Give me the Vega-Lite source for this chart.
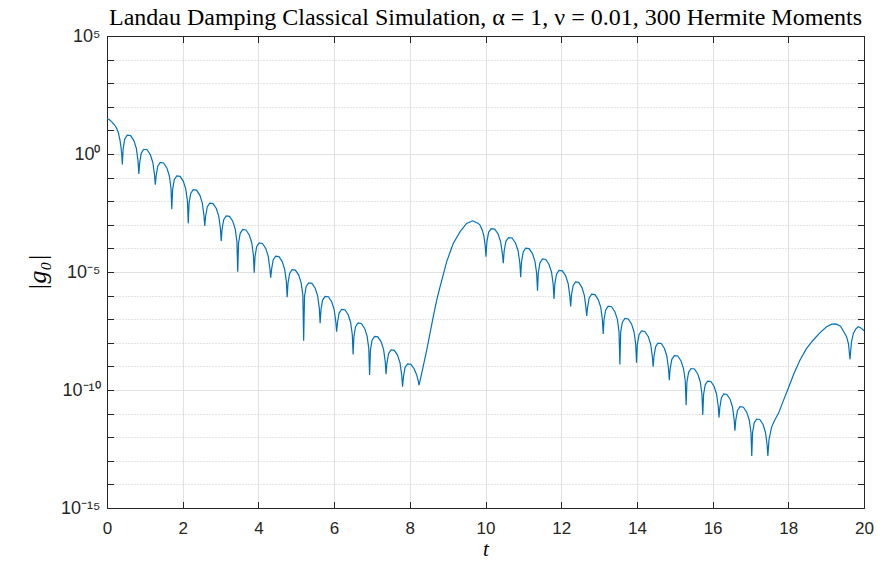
{
  "$schema": "https://vega.github.io/schema/vega-lite/v6.json",
  "width": 757,
  "height": 472,
  "autosize": {"type": "none"},
  "padding": {"left": 107, "top": 36, "right": 30, "bottom": 54},
  "background": "white",
  "title": {"text": "Landau Damping Classical Simulation, α = 1, ν = 0.01, 300 Hermite Moments", "font": "Liberation Serif", "fontSize": 24, "fontWeight": "normal", "color": "#000000", "offset": -3, "anchor": "middle"},
  "config": {"view": {"stroke": null}},
  "data": {"values": [
    {"t":0,"lg":1.50},{"t":0.06,"lg":1.46},{"t":0.12,"lg":1.37},{"t":0.19,"lg":1.25},{"t":0.255,"lg":1.09},{"t":0.30,"lg":0.90},{"t":0.343,"lg":0.59},{"t":0.37,"lg":0.28},{"t":0.39,"lg":-0.02},{"t":0.405,"lg":-0.44},
    {"t":0.427,"lg":0.23},{"t":0.470,"lg":0.64},{"t":0.536,"lg":0.80},{"t":0.623,"lg":0.78},{"t":0.710,"lg":0.57},{"t":0.775,"lg":0.24},{"t":0.819,"lg":-0.28},{"t":0.841,"lg":-0.85},
    {"t":0.863,"lg":-0.37},{"t":0.906,"lg":0.04},{"t":0.972,"lg":0.20},{"t":1.059,"lg":0.18},{"t":1.146,"lg":-0.03},{"t":1.211,"lg":-0.36},{"t":1.255,"lg":-0.88},{"t":1.276,"lg":-1.30},
    {"t":1.298,"lg":-0.93},{"t":1.341,"lg":-0.52},{"t":1.407,"lg":-0.36},{"t":1.494,"lg":-0.38},{"t":1.581,"lg":-0.59},{"t":1.646,"lg":-0.92},{"t":1.690,"lg":-1.44},{"t":1.712,"lg":-2.34},
    {"t":1.734,"lg":-1.50},{"t":1.777,"lg":-1.09},{"t":1.843,"lg":-0.93},{"t":1.930,"lg":-0.95},{"t":2.017,"lg":-1.16},{"t":2.082,"lg":-1.49},{"t":2.126,"lg":-2.01},{"t":2.147,"lg":-2.94},
    {"t":2.169,"lg":-2.08},{"t":2.212,"lg":-1.67},{"t":2.278,"lg":-1.51},{"t":2.365,"lg":-1.53},{"t":2.452,"lg":-1.74},{"t":2.517,"lg":-2.07},{"t":2.561,"lg":-2.59},{"t":2.583,"lg":-3.05},
    {"t":2.605,"lg":-2.65},{"t":2.648,"lg":-2.24},{"t":2.714,"lg":-2.08},{"t":2.801,"lg":-2.10},{"t":2.888,"lg":-2.31},{"t":2.953,"lg":-2.64},{"t":2.997,"lg":-3.16},{"t":3.018,"lg":-3.69},
    {"t":3.040,"lg":-3.19},{"t":3.083,"lg":-2.78},{"t":3.149,"lg":-2.62},{"t":3.236,"lg":-2.64},{"t":3.323,"lg":-2.85},{"t":3.388,"lg":-3.18},{"t":3.432,"lg":-3.70},{"t":3.454,"lg":-4.99},
    {"t":3.476,"lg":-3.77},{"t":3.519,"lg":-3.36},{"t":3.585,"lg":-3.20},{"t":3.672,"lg":-3.22},{"t":3.759,"lg":-3.43},{"t":3.824,"lg":-3.76},{"t":3.868,"lg":-4.28},{"t":3.889,"lg":-5.03},
    {"t":3.911,"lg":-4.34},{"t":3.954,"lg":-3.93},{"t":4.020,"lg":-3.77},{"t":4.107,"lg":-3.79},{"t":4.194,"lg":-4.00},{"t":4.259,"lg":-4.33},{"t":4.303,"lg":-4.85},{"t":4.325,"lg":-5.24},
    {"t":4.347,"lg":-4.90},{"t":4.390,"lg":-4.49},{"t":4.456,"lg":-4.33},{"t":4.543,"lg":-4.35},{"t":4.630,"lg":-4.56},{"t":4.695,"lg":-4.89},{"t":4.739,"lg":-5.41},{"t":4.760,"lg":-6.07},
    {"t":4.782,"lg":-5.47},{"t":4.825,"lg":-5.06},{"t":4.891,"lg":-4.90},{"t":4.978,"lg":-4.92},{"t":5.065,"lg":-5.13},{"t":5.130,"lg":-5.46},{"t":5.174,"lg":-5.98},{"t":5.196,"lg":-7.91},
    {"t":5.218,"lg":-6.03},{"t":5.261,"lg":-5.62},{"t":5.327,"lg":-5.46},{"t":5.414,"lg":-5.48},{"t":5.501,"lg":-5.69},{"t":5.566,"lg":-6.02},{"t":5.610,"lg":-6.54},{"t":5.631,"lg":-7.17},
    {"t":5.653,"lg":-6.60},{"t":5.696,"lg":-6.19},{"t":5.762,"lg":-6.03},{"t":5.849,"lg":-6.05},{"t":5.936,"lg":-6.26},{"t":6.001,"lg":-6.59},{"t":6.045,"lg":-7.11},{"t":6.067,"lg":-7.53},
    {"t":6.089,"lg":-7.15},{"t":6.132,"lg":-6.74},{"t":6.198,"lg":-6.58},{"t":6.285,"lg":-6.60},{"t":6.372,"lg":-6.81},{"t":6.437,"lg":-7.14},{"t":6.481,"lg":-7.66},{"t":6.502,"lg":-8.49},
    {"t":6.524,"lg":-7.73},{"t":6.567,"lg":-7.32},{"t":6.633,"lg":-7.16},{"t":6.720,"lg":-7.18},{"t":6.807,"lg":-7.39},{"t":6.872,"lg":-7.72},{"t":6.916,"lg":-8.24},{"t":6.938,"lg":-9.36},
    {"t":6.960,"lg":-8.30},{"t":7.003,"lg":-7.89},{"t":7.069,"lg":-7.73},{"t":7.156,"lg":-7.75},{"t":7.243,"lg":-7.96},{"t":7.308,"lg":-8.29},{"t":7.352,"lg":-8.81},{"t":7.373,"lg":-9.33},
    {"t":7.395,"lg":-8.87},{"t":7.438,"lg":-8.46},{"t":7.504,"lg":-8.30},{"t":7.591,"lg":-8.32},{"t":7.678,"lg":-8.53},{"t":7.743,"lg":-8.86},{"t":7.787,"lg":-9.38},{"t":7.809,"lg":-9.86},
    {"t":7.831,"lg":-9.46},{"t":7.874,"lg":-9.05},{"t":7.940,"lg":-8.89},{"t":8.027,"lg":-8.91},{"t":8.114,"lg":-9.10},{"t":8.179,"lg":-9.35},{"t":8.222,"lg":-9.60},{"t":8.244,"lg":-9.79},
    {"t":8.33,"lg":-9.18},{"t":8.447,"lg":-8.31},{"t":8.62,"lg":-6.89},{"t":8.711,"lg":-6.19},{"t":8.80,"lg":-5.62},{"t":8.975,"lg":-4.56},{"t":9.15,"lg":-3.78},{"t":9.33,"lg":-3.29},{"t":9.50,"lg":-2.94},{"t":9.66,"lg":-2.83},{"t":9.80,"lg":-2.93},{"t":9.855,"lg":-3.01},{"t":9.92,"lg":-3.25},{"t":9.96,"lg":-3.50},{"t":9.99,"lg":-3.85},{"t":10.013,"lg":-4.35},
    {"t":10.036,"lg":-3.73},{"t":10.082,"lg":-3.32},{"t":10.150,"lg":-3.16},{"t":10.242,"lg":-3.18},{"t":10.333,"lg":-3.39},{"t":10.401,"lg":-3.72},{"t":10.447,"lg":-4.24},{"t":10.47,"lg":-4.63},
    {"t":10.493,"lg":-4.11},{"t":10.539,"lg":-3.70},{"t":10.608,"lg":-3.54},{"t":10.700,"lg":-3.56},{"t":10.792,"lg":-3.77},{"t":10.861,"lg":-4.10},{"t":10.907,"lg":-4.62},{"t":10.93,"lg":-5.22},
    {"t":10.952,"lg":-4.56},{"t":10.997,"lg":-4.15},{"t":11.063,"lg":-3.99},{"t":11.152,"lg":-4.01},{"t":11.241,"lg":-4.22},{"t":11.307,"lg":-4.55},{"t":11.352,"lg":-5.07},{"t":11.374,"lg":-5.79},
    {"t":11.396,"lg":-5.02},{"t":11.439,"lg":-4.61},{"t":11.505,"lg":-4.45},{"t":11.592,"lg":-4.47},{"t":11.679,"lg":-4.68},{"t":11.745,"lg":-5.01},{"t":11.788,"lg":-5.53},{"t":11.81,"lg":-6.14},
    {"t":11.832,"lg":-5.50},{"t":11.876,"lg":-5.09},{"t":11.942,"lg":-4.93},{"t":12.030,"lg":-4.95},{"t":12.118,"lg":-5.16},{"t":12.184,"lg":-5.49},{"t":12.228,"lg":-6.01},{"t":12.25,"lg":-6.46},
    {"t":12.271,"lg":-5.99},{"t":12.314,"lg":-5.58},{"t":12.377,"lg":-5.42},{"t":12.462,"lg":-5.44},{"t":12.547,"lg":-5.65},{"t":12.610,"lg":-5.98},{"t":12.653,"lg":-6.50},{"t":12.674,"lg":-6.86},
    {"t":12.696,"lg":-6.51},{"t":12.739,"lg":-6.10},{"t":12.805,"lg":-5.94},{"t":12.892,"lg":-5.96},{"t":12.979,"lg":-6.17},{"t":13.045,"lg":-6.50},{"t":13.088,"lg":-7.02},{"t":13.11,"lg":-7.63},
    {"t":13.132,"lg":-7.02},{"t":13.176,"lg":-6.61},{"t":13.242,"lg":-6.45},{"t":13.330,"lg":-6.47},{"t":13.418,"lg":-6.68},{"t":13.484,"lg":-7.01},{"t":13.528,"lg":-7.53},{"t":13.55,"lg":-8.92},
    {"t":13.572,"lg":-7.54},{"t":13.616,"lg":-7.13},{"t":13.682,"lg":-6.97},{"t":13.770,"lg":-6.99},{"t":13.858,"lg":-7.20},{"t":13.924,"lg":-7.53},{"t":13.968,"lg":-8.05},{"t":13.99,"lg":-8.84},
    {"t":14.012,"lg":-8.07},{"t":14.056,"lg":-7.66},{"t":14.122,"lg":-7.50},{"t":14.210,"lg":-7.52},{"t":14.298,"lg":-7.73},{"t":14.364,"lg":-8.06},{"t":14.408,"lg":-8.58},{"t":14.43,"lg":-9.01},
    {"t":14.451,"lg":-8.58},{"t":14.494,"lg":-8.17},{"t":14.558,"lg":-8.01},{"t":14.643,"lg":-8.03},{"t":14.728,"lg":-8.24},{"t":14.792,"lg":-8.57},{"t":14.835,"lg":-9.09},{"t":14.856,"lg":-9.58},
    {"t":14.878,"lg":-9.11},{"t":14.923,"lg":-8.70},{"t":14.989,"lg":-8.54},{"t":15.078,"lg":-8.56},{"t":15.167,"lg":-8.77},{"t":15.233,"lg":-9.10},{"t":15.278,"lg":-9.62},{"t":15.30,"lg":-10.64},
    {"t":15.322,"lg":-9.66},{"t":15.366,"lg":-9.25},{"t":15.432,"lg":-9.09},{"t":15.520,"lg":-9.11},{"t":15.608,"lg":-9.32},{"t":15.674,"lg":-9.65},{"t":15.718,"lg":-10.17},{"t":15.74,"lg":-11.06},
    {"t":15.762,"lg":-10.19},{"t":15.805,"lg":-9.78},{"t":15.869,"lg":-9.62},{"t":15.955,"lg":-9.64},{"t":16.041,"lg":-9.85},{"t":16.106,"lg":-10.18},{"t":16.149,"lg":-10.70},{"t":16.17,"lg":-11.16},
    {"t":16.191,"lg":-10.74},{"t":16.233,"lg":-10.33},{"t":16.296,"lg":-10.17},{"t":16.380,"lg":-10.19},{"t":16.464,"lg":-10.40},{"t":16.527,"lg":-10.73},{"t":16.569,"lg":-11.25},{"t":16.59,"lg":-11.72},
    {"t":16.612,"lg":-11.28},{"t":16.657,"lg":-10.87},{"t":16.724,"lg":-10.71},{"t":16.813,"lg":-10.73},{"t":16.902,"lg":-10.94},{"t":16.968,"lg":-11.27},{"t":17.013,"lg":-11.79},{"t":17.035,"lg":-12.80},
    {"t":17.056,"lg":-11.80},{"t":17.099,"lg":-11.39},{"t":17.163,"lg":-11.23},{"t":17.248,"lg":-11.25},{"t":17.333,"lg":-11.46},{"t":17.396,"lg":-11.79},{"t":17.439,"lg":-12.31},{"t":17.46,"lg":-12.80},
    {"t":17.49,"lg":-12.10},{"t":17.56,"lg":-11.56},{"t":17.65,"lg":-11.25},{"t":17.74,"lg":-10.99},{"t":17.87,"lg":-10.45},{"t":18.0,"lg":-9.93},{"t":18.15,"lg":-9.30},{"t":18.31,"lg":-8.73},{"t":18.48,"lg":-8.25},{"t":18.66,"lg":-7.88},{"t":18.84,"lg":-7.57},{"t":19.01,"lg":-7.32},{"t":19.15,"lg":-7.21},{"t":19.26,"lg":-7.20},{"t":19.38,"lg":-7.30},{"t":19.45,"lg":-7.49},{"t":19.54,"lg":-7.74},{"t":19.59,"lg":-8.05},{"t":19.63,"lg":-8.70},{"t":19.67,"lg":-7.95},{"t":19.72,"lg":-7.60},{"t":19.78,"lg":-7.42},{"t":19.85,"lg":-7.32},{"t":19.93,"lg":-7.38},{"t":20.0,"lg":-7.49}
  ]},
  "layer": [
    {
      "mark": {"type": "line", "color": "#0072BD", "strokeWidth": 1.2, "interpolate": "linear"},
      "encoding": {
        "x": {"field": "t", "type": "quantitative", "scale": {"domain": [0, 20], "nice": false, "zero": false},
          "axis": {"orient": "bottom", "values": [0,2,4,6,8,10,12,14,16,18,20], "grid": true, "gridColor": "#e1e1e1", "gridWidth": 1,
            "domainColor": "#262626", "domainWidth": 1, "tickColor": "#262626", "tickSize": -6.5, "tickWidth": 1,
            "labelFont": "Liberation Sans", "labelFontSize": 17, "labelColor": "#262626", "labelPadding": 19, "labelFlush": false,
            "title": "t", "titleFont": "Liberation Serif", "titleFontStyle": "italic", "titleFontWeight": "normal", "titleFontSize": 21, "titleColor": "#000000", "titlePadding": 2}},
        "y": {"field": "lg", "type": "quantitative", "scale": {"domain": [-15, 5], "nice": false, "zero": false},
          "axis": {"orient": "left", "values": [-15,-14,-13,-12,-11,-10,-9,-8,-7,-6,-5,-4,-3,-2,-1,0,1,2,3,4,5], "grid": true,
            "gridColor": {"condition": {"test": "datum.value % 5 === 0", "value": "#e1e1e1"}, "value": "#c8c8c8"},
            "gridDash": {"condition": {"test": "datum.value % 5 === 0", "value": []}, "value": [1, 2]},
            "domainColor": "#262626", "domainWidth": 1, "tickColor": "#262626", "tickSize": -6.5, "tickWidth": 1,
            "labelExpr": "datum.value == 5 ? '10⁵' : datum.value == 0 ? '10⁰' : datum.value == -5 ? '10⁻⁵' : datum.value == -10 ? '10⁻¹⁰' : datum.value == -15 ? '10⁻¹⁵' : ''",
            "labelFont": "Liberation Sans", "labelFontSize": 18, "labelColor": "#262626", "labelPadding": 13.5, "labelFlush": false,
            "title": "|g₀|", "titleFont": "Liberation Serif", "titleFontStyle": "italic", "titleFontWeight": "normal", "titleFontSize": 26, "titleColor": "#000000", "titlePadding": 10}}
      }
    },
    {
      "mark": {"type": "line", "opacity": 0},
      "encoding": {
        "x": {"field": "t", "type": "quantitative",
          "axis": {"orient": "top", "values": [0,2,4,6,8,10,12,14,16,18,20], "grid": false, "labels": false, "title": null,
            "domainColor": "#262626", "domainWidth": 1, "tickColor": "#262626", "tickSize": -6.5, "tickWidth": 1}},
        "y": {"field": "lg", "type": "quantitative",
          "axis": {"orient": "right", "values": [-15,-14,-13,-12,-11,-10,-9,-8,-7,-6,-5,-4,-3,-2,-1,0,1,2,3,4,5], "grid": false, "labels": false, "title": null,
            "domainColor": "#262626", "domainWidth": 1, "tickColor": "#262626", "tickSize": -6.5, "tickWidth": 1}}
      }
    }
  ],
  "resolve": {"axis": {"x": "independent", "y": "independent"}}
}
